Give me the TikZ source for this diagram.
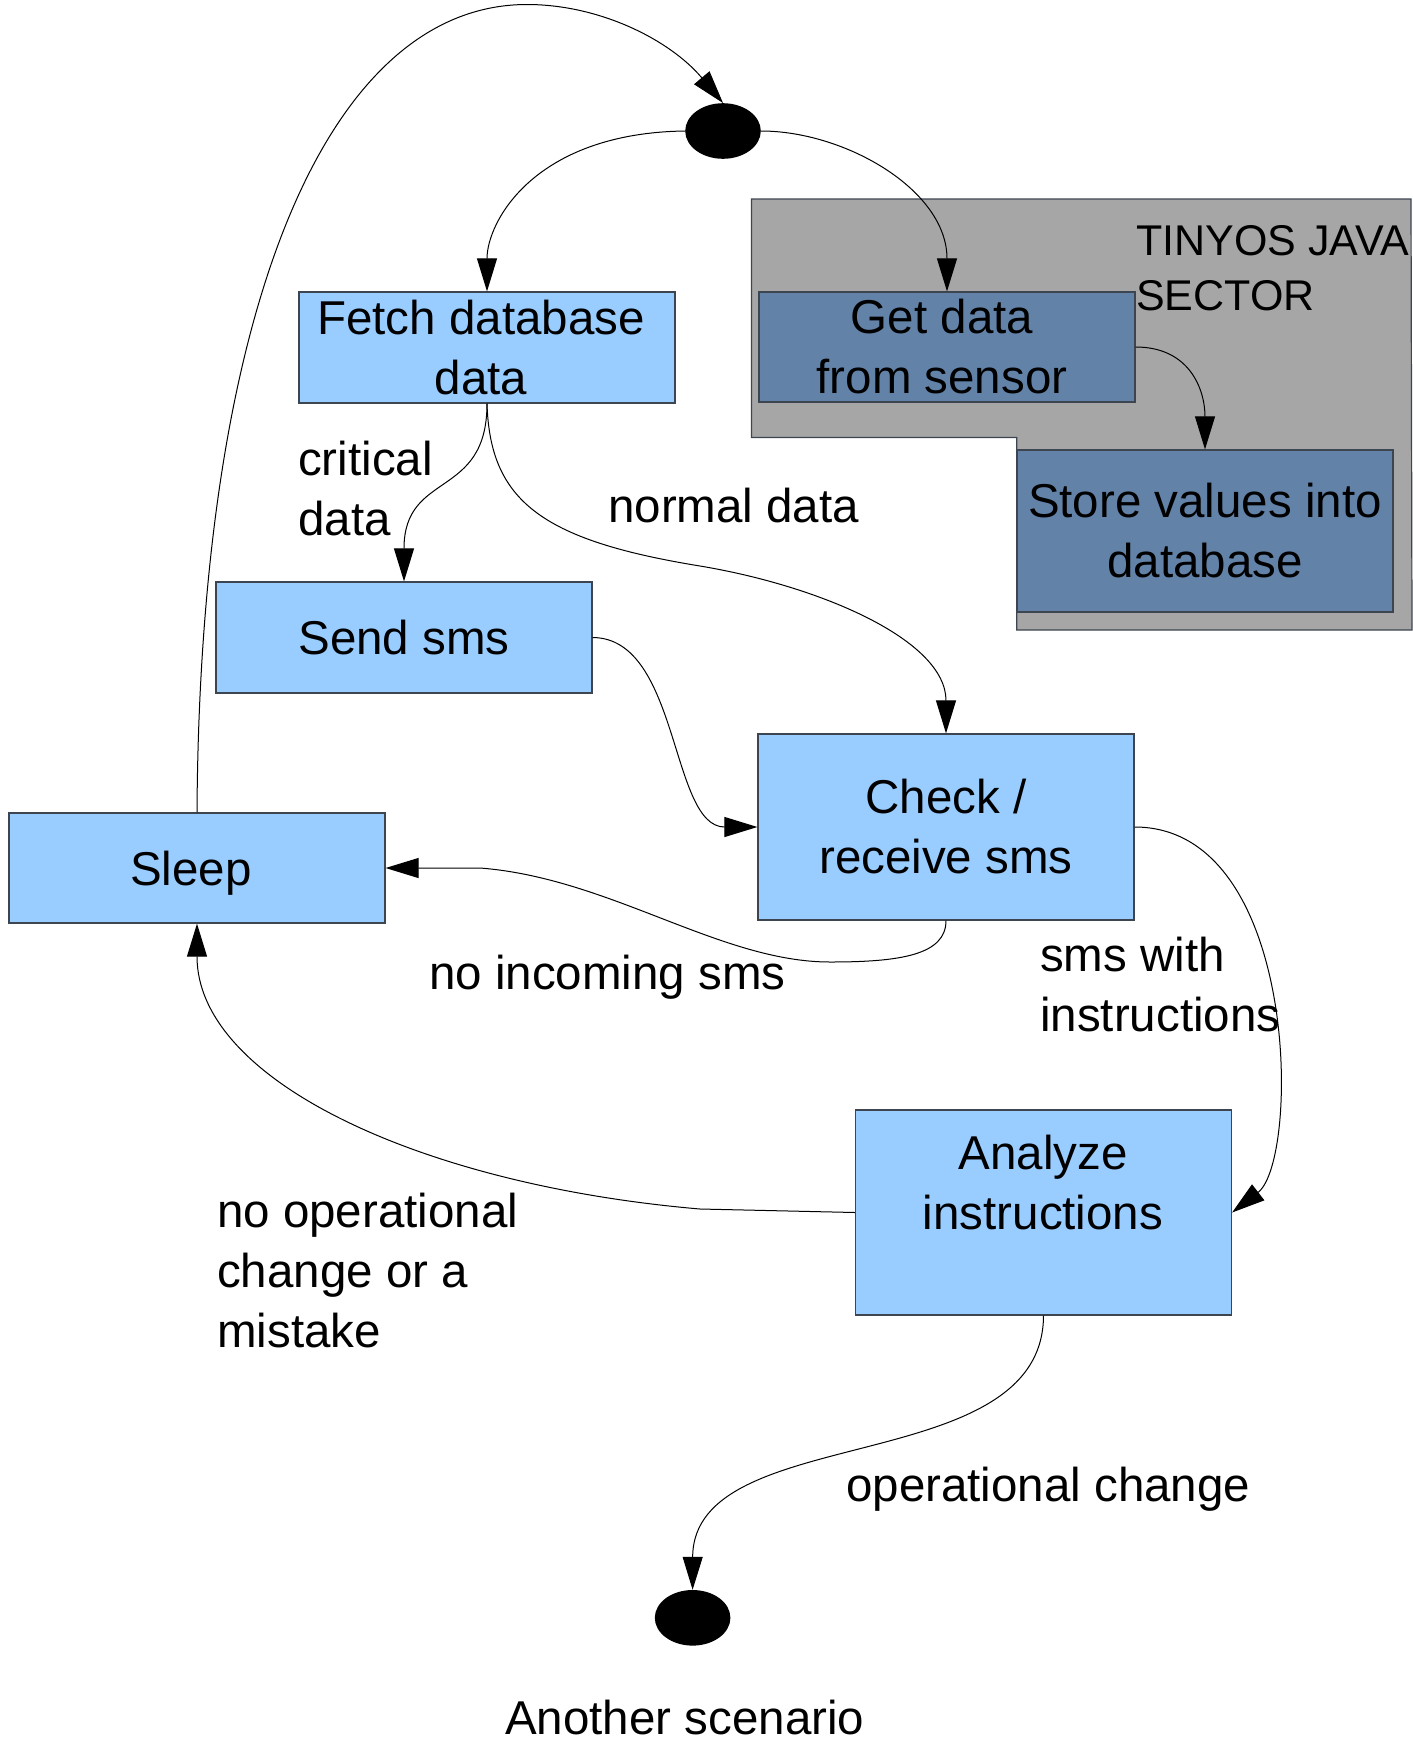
\documentclass[tikz,border=0pt]{standalone}
\usepackage{fontspec}
\setmainfont{Liberation Sans}
\usetikzlibrary{arrows.meta,shapes.geometric}
\definecolor{paleblue}{HTML}{99CCFF}
\definecolor{steelblue}{HTML}{6282A8}
\definecolor{sectorgray}{HTML}{A6A6A6}
\definecolor{boxline}{HTML}{3D4650}
\newcommand{\flowfont}{\fontsize{47.5}{60}\selectfont}
\newcommand{\sectorfont}{\fontsize{43}{55}\selectfont}
% pushes a centred line a little to the left
\newcommand{\lpad}{\hspace*{12pt}}

\begin{document}
\begin{tikzpicture}[x=1pt,y=-1pt,
  every node/.style={inner sep=0pt},
  statebox/.style={draw=boxline, line width=1.2pt, fill=paleblue, minimum width=376pt, align=center, font=\flowfont},
  sensorbox/.style={statebox, fill=steelblue},
  dot/.style={ellipse, fill=black, minimum width=75.6pt, minimum height=55.6pt},
  caption/.style={font=\flowfont, align=left},
  flow/.style={draw=black, line width=1pt, -{Triangle[length=33pt,width=20pt]}}
]
\useasboundingbox (0,0) rectangle (1413,1743);

% TinyOS / Java sector background
\fill[sectorgray, draw=boxline, line width=1.2pt]
  (751.5,199) -- (1411,199) -- (1412,630) -- (1016.7,630)
  -- (1016.7,437.5) -- (751.5,437.5) -- cycle;

% start and end points
\node[dot] (start) at (723,131) {};
\node[dot] (finish) at (692.6,1617.8) {};

% states
\node[statebox, minimum height=111pt] (fetch) at (487,347.5) {Fetch database\lpad\\data\lpad};
\node[sensorbox, minimum height=110pt] (getdata) at (947,347) {Get data\hspace*{10pt}\\from sensor\hspace*{10pt}};
\node[sensorbox, minimum height=162pt] (store) at (1205,531) {Store values into\\database};
\node[statebox, minimum height=111pt] (send) at (404,637.5) {Send sms};
\node[statebox, minimum height=110pt, text depth=0pt] (sleep) at (197,868) {Sleep\lpad};
\node[statebox, minimum height=186pt] (check) at (946,827) {Check /\\receive sms};
\node[statebox, minimum height=205pt] (analyze) at (1043.5,1212.5) {};
\node[caption, align=center] (analyzetext) at (1043,1182.6) {Analyze\\instructions};

% captions
\node[font=\sectorfont, align=left, anchor=north west] (sector) at (1136,225) {TINYOS JAVA\\SECTOR};
\node[caption, anchor=north west] (critical) at (298,441) {critical\\data};
\node[caption, anchor=base west] (normal) at (608,522.5) {normal data};
\node[caption, anchor=base west] (noincoming) at (429,989) {no incoming sms};
\node[caption, anchor=north west] (withinstr) at (1040,936.5) {sms with\\instructions};
\node[caption, anchor=north west] (nochange) at (217,1193) {no operational\\change or a\\mistake};
\node[caption, anchor=base west] (opchange) at (846,1501) {operational change};
\node[caption, anchor=base west] (another) at (505,1734) {Another scenario};

% waypoints of the longer connectors
\coordinate (apex) at (527,4.5);
\coordinate (normalbend) at (700,566);
\coordinate (idlelow) at (830,962);
\coordinate (idlerun) at (480,868);
\coordinate (idleturn) at (700,1209);

% transitions
\draw[flow] (start.west) .. controls (534,133) and (487,222) .. (fetch.north);
\draw[flow] (start.east) .. controls (845,131) and (947,190) .. (getdata.north);
\draw[flow] (getdata.east) .. controls (1190,347) and (1205,390) .. (store.north);
\draw[flow] (fetch.south) .. controls (487,500) and (404,470) .. (send.north);
\draw[flow] (fetch.south) .. controls (490,500) and (540,540) .. (normalbend)
  .. controls (820,586) and (946,640) .. (check.north);
\draw[flow] (send.east) .. controls (680,638) and (670,827) .. (check.west);
\draw[flow] (check.south) .. controls (946,955) and (900,962) .. (idlelow)
  .. controls (720,962) and (610,878) .. (idlerun) -- (sleep.east);
\draw[flow] (check.east) .. controls (1300,827) and (1300,1160) .. (analyze.east);
\draw[flow] (analyze.west) -- (idleturn)
  .. controls (420,1185) and (197,1080) .. (sleep.south);
\draw[flow] (analyze.south) .. controls (1043,1480) and (693,1420) .. (finish.north);
\draw[flow] (sleep.north) .. controls (200,300) and (330,4.5) .. (apex)
  .. controls (600,4.5) and (670,40) .. (start.north);
\end{tikzpicture}
\end{document}
